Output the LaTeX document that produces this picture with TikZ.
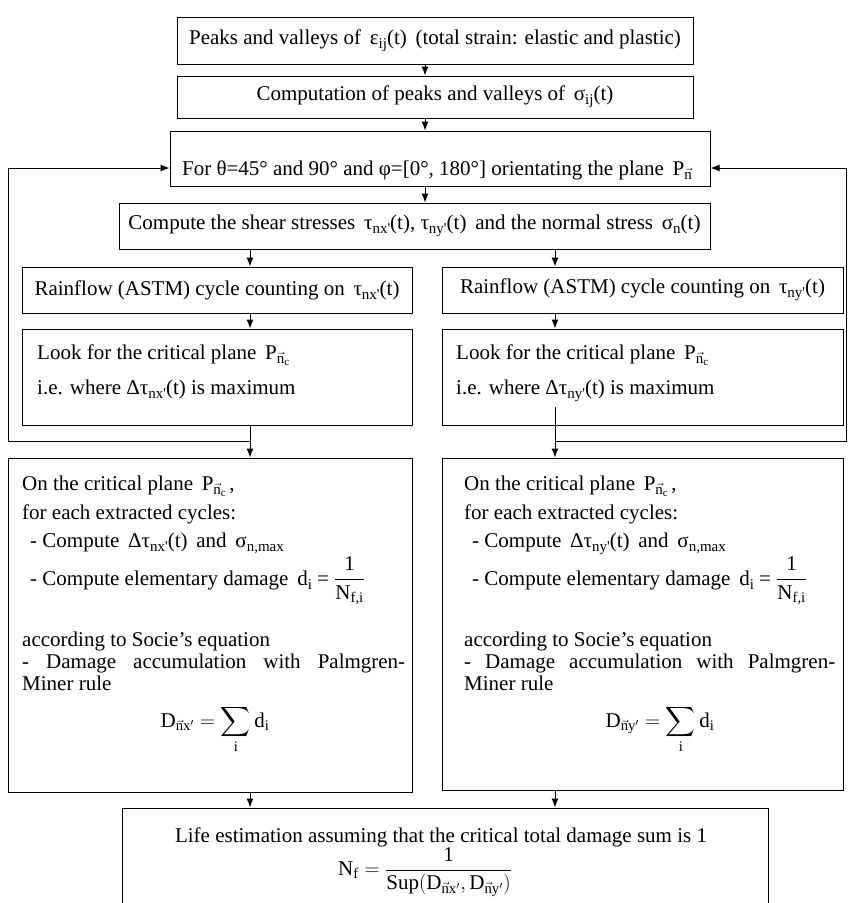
\documentclass[tikz,border=0pt]{standalone}
\usepackage{amsmath}
\usepackage{fontspec}
\setmainfont{Liberation Serif}
\usetikzlibrary{arrows.meta}
\newcommand{\sbs}[1]{\raisebox{-0.45ex}{\fontsize{15}{15}\selectfont #1}}
\newcommand{\ssbs}[1]{\raisebox{-0.35ex}{\fontsize{11}{11}\selectfont #1}}
\newcommand{\vn}{\ensuremath{\vec{\text{n}}}}
\newcommand{\pr}{\textquotesingle}
\begin{document}
\begin{tikzpicture}[x=1pt,y=-1pt,
  every node/.style={font=\fontsize{21}{24}\selectfont},
  box/.style={draw,line width=1pt,inner sep=0pt},
  txt/.style={inner sep=0pt},
  arr/.style={line width=1pt,-{Latex[length=9pt,width=7pt]}},
  ln/.style={line width=1pt}]
\clip (0,0) rectangle (848,903);
% top chain
\node[box,minimum width=516pt,minimum height=47pt] (b1) at (435,40.5) {Peaks and valleys of\, ε\sbs{ij}(t)\, (total strain: elastic and plastic)};
\node[box,minimum width=516pt,minimum height=42pt] (b2) at (435,97) {Computation of peaks and valleys of\, σ\sbs{ij}(t)};
\node[box,minimum width=540pt,minimum height=55pt] (b3) at (440,158.5) {};
\node[txt,anchor=base] (b3t) at (437,175) {For θ=45° and 90° and φ=[0°, 180°] orientating the plane\, P\sbs{\vn}};
\node[box,minimum width=591pt,minimum height=46pt] (b4) at (414.5,226) {Compute the shear stresses\, τ\sbs{nx\pr}(t), τ\sbs{ny\pr}(t)\, and the normal stress\, σ\sbs{n}(t)};
% rainflow
\node[box,minimum width=390pt,minimum height=46pt] (r1) at (217,290) {Rainflow (ASTM) cycle counting on\, τ\sbs{nx\pr}(t)};
\node[box,minimum width=401pt,minimum height=46pt] (r2) at (642.5,290) {Rainflow (ASTM) cycle counting on\, τ\sbs{ny\pr}(t)};
% look for
\node[box,minimum width=390pt,minimum height=96pt] (l1) at (217,377) {};
\node[box,minimum width=401pt,minimum height=96pt] (l2) at (642.5,377) {};
\node[txt,anchor=base west] (l1a) at (37,359) {Look for the critical plane\, P\sbs{\vn\ssbs{c}}};
\node[txt,anchor=base west] (l1b) at (37,394) {i.e. where Δτ\sbs{nx\pr}(t) is maximum};
\node[txt,anchor=base west] (l2a) at (456,359) {Look for the critical plane\, P\sbs{\vn\ssbs{c}}};
\node[txt,anchor=base west] (l2b) at (456,394) {i.e. where Δτ\sbs{ny\pr}(t) is maximum};
% critical plane boxes
\node[box,minimum width=404pt,minimum height=334pt] (c1) at (210,625) {};
\node[box,minimum width=401pt,minimum height=332pt] (c2) at (642.5,624) {};
\node[txt,anchor=base west] (c1a) at (22,490) {On the critical plane\, P\sbs{\vn\ssbs{c}}\,,};
\node[txt,anchor=base west] (c1b) at (22,519) {for each extracted cycles:};
\node[txt,anchor=base west] (c1c) at (30,547) {- Compute\, Δτ\sbs{nx\pr}(t)\, and\, σ\sbs{n,max}};
\node[txt,anchor=base west] (c1d) at (30,585) {- Compute elementary damage\, d\sbs{i} = $\dfrac{\text{1}}{\text{N}_{\text{f,i}}}$};
\node[txt,anchor=base west] (c1e) at (22,646) {according to Socie's equation};
\node[txt,anchor=base west] (c1f) at (22,668) {\makebox[383pt][s]{- Damage accumulation with Palmgren-}};
\node[txt,anchor=base west] (c1g) at (22,690) {Miner rule};
\node[txt,anchor=base] (c1h) at (215,727) {$\displaystyle\text{D}_{\vec{\text{n}}\text{x}'} = \sum_{\text{i}} \text{d}_{\text{i}}$};
\node[txt,anchor=base west] (c2a) at (464,490) {On the critical plane\, P\sbs{\vn\ssbs{c}}\,,};
\node[txt,anchor=base west] (c2b) at (464,519) {for each extracted cycles:};
\node[txt,anchor=base west] (c2c) at (472,547) {- Compute\, Δτ\sbs{ny\pr}(t)\, and\, σ\sbs{n,max}};
\node[txt,anchor=base west] (c2d) at (472,585) {- Compute elementary damage\, d\sbs{i} = $\dfrac{\text{1}}{\text{N}_{\text{f,i}}}$};
\node[txt,anchor=base west] (c2e) at (464,646) {according to Socie's equation};
\node[txt,anchor=base west] (c2f) at (464,668) {\makebox[371pt][s]{- Damage accumulation with Palmgren-}};
\node[txt,anchor=base west] (c2g) at (464,690) {Miner rule};
\node[txt,anchor=base] (c2h) at (660,727) {$\displaystyle\text{D}_{\vec{\text{n}}\text{y}'} = \sum_{\text{i}} \text{d}_{\text{i}}$};
% bottom
\node[box,minimum width=646pt,minimum height=140pt] (bt) at (445,878) {};
\node[txt,anchor=base] (bt1) at (441,842) {Life estimation assuming that the critical total damage sum is 1};
\node[txt] (bt2) at (425,872) {$\text{N}_{\text{f}} = \dfrac{\text{1}}{\text{Sup}(\text{D}_{\vec{\text{n}}\text{x}'},\text{D}_{\vec{\text{n}}\text{y}'})}$};
% connectors
\coordinate (cx) at (425,0);
\coordinate (lx) at (250,0);
\coordinate (rx) at (555,0);
\draw[arr] (b1.south -| cx) -- (b2.north -| cx);
\draw[arr] (b2.south -| cx) -- (b3.north -| cx);
\draw[arr] (b3.south -| cx) -- (b4.north -| cx);
\draw[arr] (b4.south -| lx) -- (r1.north -| lx);
\draw[arr] (b4.south -| rx) -- (r2.north -| rx);
\draw[arr] (r1.south -| lx) -- (l1.north -| lx);
\draw[arr] (r2.south -| rx) -- (l2.north -| rx);
\draw[arr] (l1.south -| lx) -- (c1.north -| lx);
\coordinate (rs) at (555,407);
\draw[arr] (rs) -- (c2.north -| rx);
\draw[arr] (c1.south -| lx) -- (bt.north -| lx);
\draw[arr] (c2.south -| rx) -- (bt.north -| rx);
\coordinate (jl) at (250,441);
\coordinate (lc) at (8,441);
\coordinate (lt) at (8,168);
\draw[arr] (jl) -- (lc) -- (lt) -- (lt -| b3.west);
\coordinate (jr) at (555,441);
\coordinate (rc) at (846,441);
\coordinate (rt) at (846,168);
\draw[arr] (jr) -- (rc) -- (rt) -- (rt -| b3.east);
\end{tikzpicture}
\end{document}
